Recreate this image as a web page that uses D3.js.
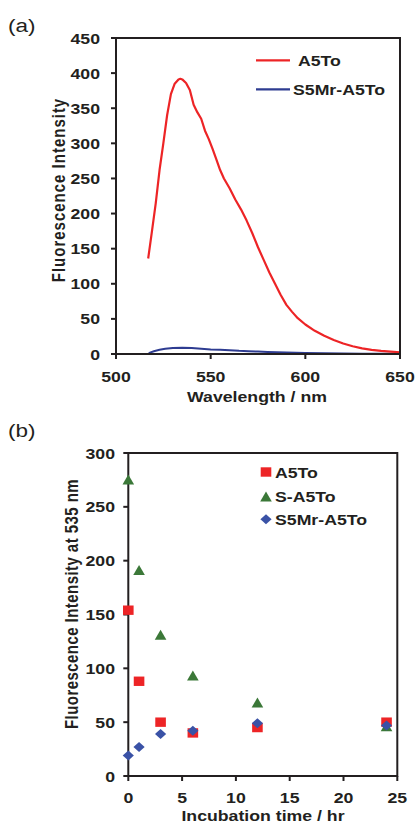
<!DOCTYPE html>
<html><head><meta charset="utf-8">
<script src="https://cdn.jsdelivr.net/npm/d3@7"></script>
<style>body{margin:0;background:#fff}svg{display:block}text{font-family:"Liberation Sans",Arial,sans-serif;fill:#231f20}</style>
</head><body><svg id="c" width="416" height="823"></svg>
<script>
// ---- data: panel (a) spectra ----
const redWl  = [517,519,521,523,525,527,529,531,533,534,535,537,539,541,543,545,547,549,551,553,555,557,560,563,566,569,572,575,578,581,584,587,590,593,596,600,605,610,615,620,625,630,635,640,645,650];
const redVal = [136,175,215,262,300,340,370,385,391,392,391,386,376,355,344,335,318,306,292,277,262,250,236,220,206,190,172,152,134,116,100,84,70,60,51,42,33,26,20,15,11,8,6,4.5,3.5,2.5];
const blueWl  = [517,518,520,523,526,530,535,540,545,550,555,560,565,570,575,580,590,600,610,620,630,640,650];
const blueVal = [0,2,4,6,7.5,8.5,9,8.5,7.5,6.5,6,5.5,4.5,4,3.5,3,2,1.5,1,0.8,0.5,0.3,0.2];
const aXTicks = [500,550,600,650];
const aYTicks = [0,50,100,150,200,250,300,350,400,450];
const aSeries = ["A5To","S5Mr-A5To"];
// ---- data: panel (b) incubation ----
const times  = [0,1,3,6,12,24];
const a5to   = [154,88,50,40,45,50];
const sa5to  = [275,191,131,93,68,46];
const s5mr   = [19,27,39,42,49,47];
const bXTicks = [0,5,10,15,20,25];
const bYTicks = [0,50,100,150,200,250,300];
const bSeries = ["A5To","S-A5To","S5Mr-A5To"];

const RED="#ed2426", BLUE="#2e3c91", GREEN="#3b7838", DIA="#3a52a6", INK="#231f20";
const SX=1.18;
const svg=d3.select("#c");

function txt(x,y,s,opt={}){
  const t=svg.append("text").attr("transform",`translate(${x},${y}) scale(${opt.sx||SX},1)${opt.rot?" rotate(-90)":""}`)
    .attr("text-anchor",opt.anchor||"start").attr("font-size",opt.size||15)
    .attr("font-weight",opt.weight||"bold").text(s);
  if(opt.ls) t.attr("letter-spacing",opt.ls);
  return t;
}

// ---------- Panel (a) ----------
const ax=d3.scaleLinear().domain([500,650]).range([116,400]);
const ay=d3.scaleLinear().domain([0,450]).range([354,38]);
txt(8,32,"(a)",{weight:"normal",size:18,sx:1.25});
const line=d3.line().x(d=>ax(d[0])).y(d=>ay(d[1]));
svg.append("path").datum(blueWl.map((w,i)=>[w,blueVal[i]])).attr("d",line).attr("fill","none").attr("stroke",BLUE).attr("stroke-width",2);
svg.append("path").datum(redWl.map((w,i)=>[w,redVal[i]])).attr("d",line).attr("fill","none").attr("stroke",RED).attr("stroke-width",2.2).attr("stroke-linejoin","round");
// frame
svg.append("rect").attr("x",ax(500)).attr("y",ay(450)).attr("width",ax(650)-ax(500)).attr("height",ay(0)-ay(450)).attr("fill","none").attr("stroke",INK).attr("stroke-width",2);
aYTicks.forEach(v=>{
  svg.append("line").attr("x1",ax(500)-5).attr("x2",ax(500)).attr("y1",ay(v)).attr("y2",ay(v)).attr("stroke",INK).attr("stroke-width",2);
  txt(100,ay(v)+5.5,String(v),{anchor:"end"});
});
aXTicks.forEach(v=>{
  svg.append("line").attr("x1",ax(v)).attr("x2",ax(v)).attr("y1",ay(0)).attr("y2",ay(0)+5).attr("stroke",INK).attr("stroke-width",2);
  txt(ax(v),382,String(v),{anchor:"middle"});
});
txt(257,402,"Wavelength / nm",{anchor:"middle"});
txt(65,190,"Fluorescence Intensity",{anchor:"middle",rot:true,ls:1});
// legend (a)
const aLeg=[{c:RED,y:60.3,tx:298,ty:65.7},{c:BLUE,y:89.3,tx:293,ty:95}];
aSeries.forEach((s,i)=>{
  const L=aLeg[i];
  svg.append("line").attr("x1",256).attr("x2",290).attr("y1",L.y).attr("y2",L.y).attr("stroke",L.c).attr("stroke-width",2.2);
  txt(L.tx,L.ty,s);
});

// ---------- Panel (b) ----------
const bx=d3.scaleLinear().domain([0,25]).range([128.3,397.3]);
const by=d3.scaleLinear().domain([0,300]).range([776,453]);
txt(8,437,"(b)",{weight:"normal",size:18,sx:1.25});
svg.append("rect").attr("x",bx(0)).attr("y",by(300)).attr("width",bx(25)-bx(0)).attr("height",by(0)-by(300)).attr("fill","none").attr("stroke",INK).attr("stroke-width",2);
bYTicks.forEach(v=>{
  svg.append("line").attr("x1",bx(0)-5).attr("x2",bx(0)).attr("y1",by(v)).attr("y2",by(v)).attr("stroke",INK).attr("stroke-width",2);
  txt(115,by(v)+5.5,String(v),{anchor:"end"});
});
bXTicks.forEach(v=>{
  svg.append("line").attr("x1",bx(v)).attr("x2",bx(v)).attr("y1",by(0)).attr("y2",by(0)+5).attr("stroke",INK).attr("stroke-width",2);
  txt(bx(v),803,String(v),{anchor:"middle"});
});
txt(263,821,"Incubation time / hr",{anchor:"middle"});
txt(78,604,"Fluorescence Intensity at 535 nm",{anchor:"middle",rot:true,ls:0.45});

const sq="M-5.3,-4.7H5.3V4.7H-5.3Z";
const tri="M0,-5.3L5.8,4.7L-5.8,4.7Z";
const dia="M0,-5L5.6,0L0,5L-5.6,0Z";
const markers=[{d:sq,c:RED},{d:tri,c:GREEN},{d:dia,c:DIA}];
const vals=[a5to,sa5to,s5mr];
// draw order: triangles, squares, diamonds (diamonds on top)
[1,0,2].forEach(k=>{
  svg.append("g").selectAll("path").data(times.map((t,i)=>[t,vals[k][i]])).join("path")
    .attr("d",markers[k].d).attr("fill",markers[k].c)
    .attr("transform",d=>`translate(${bx(d[0])},${by(d[1])})`);
});
const bLegY=[472,496.7,519.3], bLegTY=[477.5,502,525];
bSeries.forEach((s,i)=>{
  svg.append("path").attr("d",markers[i].d).attr("fill",markers[i].c).attr("transform",`translate(266,${bLegY[i]})`);
  txt(275,bLegTY[i],s);
});
</script></body></html>
